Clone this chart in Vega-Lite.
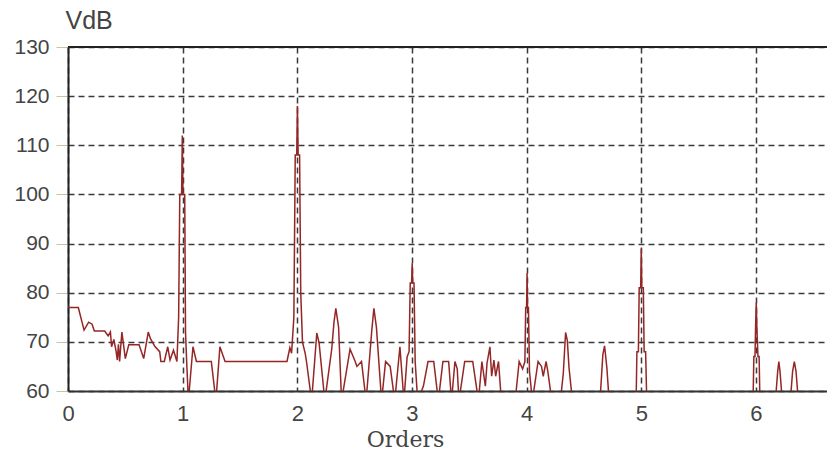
{
  "$schema": "https://vega.github.io/schema/vega-lite/v6.json",
  "width": 759,
  "height": 344,
  "autosize": "none",
  "padding": {"left": 68, "top": 47, "right": 0, "bottom": 66},
  "background": "white",
  "config": {"view": {"stroke": null}},
  "data": {"values": [
    {"o":0,"v":77},{"o":0.09,"v":77},{"o":0.14,"v":72.4},{"o":0.18,"v":74},{"o":0.21,"v":73.6},{"o":0.23,"v":72.2},{"o":0.32,"v":72.2},{"o":0.35,"v":71.2},{"o":0.37,"v":72},{"o":0.38,"v":69},{"o":0.4,"v":70.5},{"o":0.42,"v":68},{"o":0.43,"v":66.3},{"o":0.44,"v":69.5},{"o":0.45,"v":66},{"o":0.47,"v":72},{"o":0.5,"v":66.6},{"o":0.53,"v":69.4},{"o":0.62,"v":69.4},{"o":0.66,"v":66.6},{"o":0.7,"v":72},{"o":0.72,"v":70.6},{"o":0.76,"v":69},{"o":0.8,"v":68},{"o":0.81,"v":66},{"o":0.84,"v":66},{"o":0.87,"v":69},{"o":0.89,"v":66.3},{"o":0.92,"v":68.3},{"o":0.95,"v":66},
    {"o":0.965,"v":75},{"o":0.975,"v":100},{"o":0.991,"v":100},{"o":0.997,"v":112},{"o":1.003,"v":100},{"o":1.018,"v":100},{"o":1.025,"v":72},{"o":1.035,"v":66},
    {"o":1.05,"v":58},{"o":1.09,"v":69},{"o":1.12,"v":66},{"o":1.25,"v":66},{"o":1.29,"v":58},{"o":1.325,"v":69},{"o":1.37,"v":66},{"o":1.91,"v":66},{"o":1.935,"v":68.8},{"o":1.95,"v":67.7},
    {"o":1.97,"v":75},{"o":1.982,"v":108},{"o":1.995,"v":108},{"o":2.001,"v":118},{"o":2.007,"v":108},{"o":2.02,"v":108},{"o":2.03,"v":80},{"o":2.045,"v":70},
    {"o":2.07,"v":67.5},{"o":2.08,"v":66},{"o":2.125,"v":58},{"o":2.17,"v":71.8},{"o":2.19,"v":69.8},{"o":2.24,"v":58},{"o":2.3,"v":68.5},{"o":2.32,"v":74},{"o":2.336,"v":76.8},{"o":2.36,"v":73},{"o":2.386,"v":58},{"o":2.46,"v":68.5},{"o":2.5,"v":66.3},{"o":2.52,"v":65},{"o":2.56,"v":66},{"o":2.6,"v":58},{"o":2.65,"v":72.4},{"o":2.668,"v":76.8},{"o":2.69,"v":73},{"o":2.735,"v":58},{"o":2.77,"v":66},{"o":2.81,"v":65},{"o":2.85,"v":58},{"o":2.895,"v":69},{"o":2.93,"v":58},{"o":2.958,"v":67},
    {"o":2.975,"v":68},{"o":2.985,"v":82},{"o":2.997,"v":82},{"o":3.002,"v":86},{"o":3.007,"v":82},{"o":3.018,"v":82},{"o":3.028,"v":66},
    {"o":3.05,"v":58},{"o":3.1,"v":61},{"o":3.14,"v":66},{"o":3.19,"v":66},{"o":3.23,"v":58},{"o":3.27,"v":66},{"o":3.32,"v":66},{"o":3.345,"v":58},{"o":3.375,"v":66},{"o":3.395,"v":64.5},{"o":3.41,"v":58},{"o":3.46,"v":66},{"o":3.53,"v":66},{"o":3.58,"v":58},{"o":3.61,"v":66},{"o":3.64,"v":61},{"o":3.655,"v":65.7},{"o":3.68,"v":69},{"o":3.695,"v":63},{"o":3.715,"v":66.3},{"o":3.73,"v":63},{"o":3.755,"v":66},{"o":3.78,"v":58},{"o":3.9,"v":58},{"o":3.935,"v":66},{"o":3.965,"v":64.5},
    {"o":3.985,"v":66},{"o":3.992,"v":77},{"o":4.0,"v":77},{"o":4.004,"v":84},{"o":4.008,"v":77},{"o":4.016,"v":77},{"o":4.025,"v":64},
    {"o":4.05,"v":58},{"o":4.1,"v":66},{"o":4.13,"v":65},{"o":4.145,"v":63},{"o":4.17,"v":66},{"o":4.185,"v":64},{"o":4.22,"v":58},{"o":4.295,"v":58},{"o":4.32,"v":63.6},{"o":4.34,"v":71.9},{"o":4.355,"v":70.3},{"o":4.37,"v":64.7},{"o":4.4,"v":58},{"o":4.64,"v":58},{"o":4.665,"v":67.4},{"o":4.68,"v":69.2},{"o":4.7,"v":64.7},{"o":4.72,"v":58},
    {"o":4.955,"v":58},{"o":4.962,"v":68},{"o":4.975,"v":68},{"o":4.982,"v":81},{"o":4.995,"v":81},{"o":5.0,"v":89},{"o":5.005,"v":81},{"o":5.018,"v":81},{"o":5.025,"v":68},{"o":5.038,"v":68},{"o":5.048,"v":58},
    {"o":5.975,"v":58},{"o":5.982,"v":67},{"o":5.992,"v":67},{"o":5.997,"v":73},{"o":6.003,"v":78},{"o":6.008,"v":73},{"o":6.018,"v":67},{"o":6.028,"v":67},{"o":6.035,"v":58},
    {"o":6.17,"v":58},{"o":6.19,"v":64},{"o":6.2,"v":66},{"o":6.21,"v":64},{"o":6.23,"v":58},{"o":6.3,"v":58},{"o":6.32,"v":64},{"o":6.335,"v":66},{"o":6.35,"v":64},{"o":6.37,"v":58},{"o":6.62,"v":58}
  ]},
  "layer": [
    {
      "mark": {"type": "line", "color": "#942626", "strokeWidth": 1.5, "clip": true},
      "encoding": {
        "x": {"field": "o", "type": "quantitative",
          "scale": {"domain": [0, 6.62], "nice": false, "zero": false},
          "axis": {"values": [0,1,2,3,4,5,6], "grid": true, "gridDash": [6,4], "gridColor": "#3a3a3a", "gridWidth": 1.5,
            "domainColor": "#333", "domainWidth": 2, "ticks": false,
            "labelFont": "Liberation Sans", "labelFontSize": 22, "labelColor": "#444", "labelPadding": 12, "labelFlush": false,
            "title": "Orders", "titleFont": "DejaVu Serif", "titleFontSize": 22, "titleFontWeight": "normal", "titleColor": "#444",
            "titleX": 337, "titleY": 55, "titleBaseline": "alphabetic", "titleAlign": "center"}},
        "y": {"field": "v", "type": "quantitative",
          "scale": {"domain": [60, 130], "nice": false, "zero": false},
          "axis": {"values": [60,70,80,90,100,110,120,130], "grid": true, "gridDash": [6,4], "gridColor": "#3a3a3a", "gridWidth": 1.5,
            "domainColor": "#222", "domainWidth": 2, "tickColor": "#c8c49a", "tickSize": 12, "tickWidth": 1,
            "labelFont": "Liberation Sans", "labelFontSize": 21, "labelColor": "#444", "labelPadding": 7,
            "title": "VdB", "titleFont": "Liberation Sans", "titleFontSize": 25, "titleFontWeight": "normal", "titleColor": "#444",
            "titleAngle": 0, "titleAlign": "left", "titleBaseline": "alphabetic", "titleX": -3, "titleY": -19}}
      }
    },
    {
      "mark": {"type": "rule", "color": "#222", "strokeWidth": 2},
      "encoding": {"y": {"datum": 130}}
    }
  ]
}
